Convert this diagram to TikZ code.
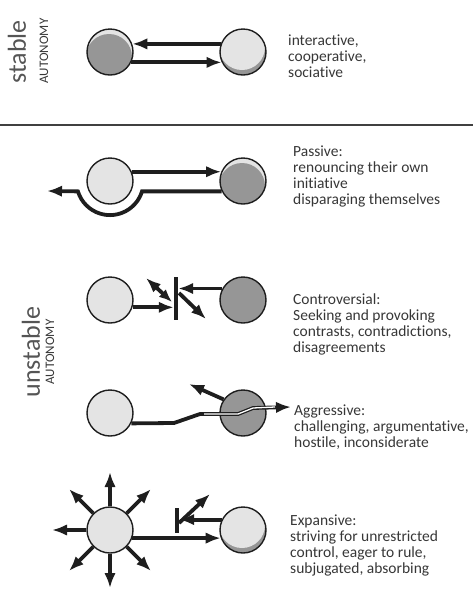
\documentclass[tikz,border=0pt]{standalone}
\usepackage{fontspec}
\setmainfont{Carlito}[Ligatures=NoCommon]
\usetikzlibrary{arrows.meta,positioning}
\definecolor{ink}{RGB}{30,30,30}
\definecolor{lgray}{RGB}{228,228,228}
\definecolor{dgray}{RGB}{150,150,150}
\definecolor{txtgray}{RGB}{55,55,55}
\tikzset{
  ball/.style={circle, draw=ink, line width=1.4pt, fill=lgray, minimum size=46pt, inner sep=0pt},
  dball/.style={ball, fill=dgray},
  topball/.style={ball, path picture={\fill[dgray] ([shift={(-1pt,-5pt)}]path picture bounding box.center) circle (23pt);}},
  botball/.style={ball, fill=dgray, path picture={\fill[lgray] ([shift={(-1pt,5pt)}]path picture bounding box.center) circle (23pt);}},
  arr/.style={-{Latex[length=15pt,width=11.5pt]}, line width=3.8pt, ink},
  darr/.style={arr, {Latex[length=13pt,width=10.5pt]}-{Latex[length=15pt,width=11.5pt]}},
  wall/.style={rectangle, fill=ink, minimum width=4pt, inner sep=0pt},
  desc/.style={anchor=north west, align=left, inner sep=0pt, text=txtgray, font=\fontsize{15.5}{16}\selectfont},
  side/.style={rotate=90, text=txtgray!85, inner sep=0pt, font=\fontsize{26}{26}\selectfont},
  sidecap/.style={rotate=90, text=txtgray, inner sep=0pt, font=\fontsize{13}{13}\selectfont},
}
\begin{document}
\begin{tikzpicture}[x=1pt, y=-1pt]
\useasboundingbox (0,0) rectangle (473,590);
%---- stable : interactive
\node[side] (stab) at (17,52) {stable};
\node[sidecap] (auto1) at (44,51) {AUTONOMY};
\node[topball] (a1) at (110,52) {};
\node[botball] (b1) at (243,52) {};
\draw[arr] (b1.160) -- (a1.20);
\draw[arr] (a1.-26) -- (b1.206);
\node[desc] (txt1) at (288,35) {interactive,\\cooperative,\\sociative};
%---- divider
\draw[line width=1.3pt, ink!85] (0,125) -- (473,125);
%---- unstable
\node[side] (unst) at (31,352) {unstable};
\node[sidecap] (auto2) at (50,352) {AUTONOMY};
%---- passive
\node[ball] (a2) at (110,181) {};
\node[topball] (b2) at (243,181) {};
\coordinate (p2) at (47,191);
\draw[arr] (a2.23) -- (b2.157);
\draw[arr] (b2.206) -- ([xshift=32pt]a2.center |- b2.206)
  arc[start angle=-17, end angle=-163, radius=33.5pt] -- (p2);
\node[desc] (txt2) at (293,146) {Passive:\\renouncing their own\\initiative\\disparaging themselves};
%---- controversial
\node[ball] (a3) at (110,300) {};
\node[dball] (b3) at (243,300) {};
\node[wall, minimum height=43pt] (k3) at (176,298) {};
\coordinate (u3) at (146,278);
\coordinate (d3) at (206,319);
\draw[arr] (a3.-18) -- (a3.-18 -| k3.west);
\draw[arr] (b3.151) -- (b3.151 -| k3.east);
\draw[darr] ([shift={(-4pt,-4pt)}]k3.center) -- (u3);
\draw[arr] ([shift={(3pt,5pt)}]k3.center) -- (d3);
\node[desc] (txt3) at (293,294) {Controversial:\\Seeking and provoking\\contrasts, contradictions,\\disagreements};
%---- aggressive
\node[ball] (a4) at (110,413) {};
\node[dball] (b4) at (243,413) {};
\coordinate (w1) at (174,423);
\coordinate (w2) at (200,414);
\coordinate (w3) at (238,414);
\coordinate (w4) at (253,408);
\coordinate (tip4) at (291,407);
\coordinate (q4) at (189,384);
\draw[arr] (a4.-26) -- (w1) -- (w2) -- (w3) -- (w4) -- (tip4);
\draw[white, line width=1.3pt] ([xshift=4pt]w2) -- (w3) -- (w4) -- ([xshift=-16pt]tip4);
\draw[arr] (b4.145) -- (q4);
\node[desc] (txt4) at (294,405) {Aggressive:\\challenging, argumentative,\\hostile, inconsiderate};
%---- expansive
\node[ball] (a5) at (110,530) {};
\node[botball] (b5) at (243,530) {};
\node[wall, minimum height=25pt] (k5) at (177,520) {};
\coordinate (r5) at (210,494);
\foreach \a in {45,90,...,315}
  \draw[arr] (a5.\a) -- ([shift={(\a:58pt)}]a5.center);
\draw[arr] (a5.-20) -- (b5.200);
\draw[arr] (b5.154) -- (b5.154 -| k5.east);
\draw[arr] ([shift={(2pt,-3pt)}]k5.center) -- (r5);
\node[desc] (txt5) at (290,515) {Expansive:\\striving for unrestricted\\control, eager to rule,\\subjugated, absorbing};
\end{tikzpicture}
\end{document}
